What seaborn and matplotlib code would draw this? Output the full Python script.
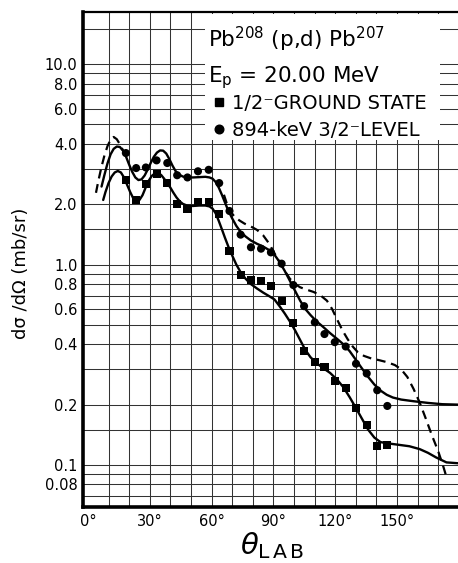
import numpy as np
import pandas as pd
import matplotlib
matplotlib.use("Agg")
import matplotlib.pyplot as plt
import seaborn as sns
from matplotlib.patches import Rectangle
from matplotlib.lines import Line2D

# ---------------- data ----------------
theta_pts = [18.4, 23.4, 28.1, 33.3, 38.5, 43.3, 48.3, 53.4, 58.6, 63.7, 68.7,
             74.1, 79.1, 84.0, 88.8, 94.0, 99.7, 104.9, 110.1, 114.8, 119.8,
             125.1, 130.1, 135.3, 140.4, 145.3]
ground_vals = [2.65, 2.09, 2.53, 2.82, 2.55, 2.01, 1.90, 2.05, 2.05, 1.79, 1.17,
               0.89, 0.84, 0.83, 0.785, 0.66, 0.51, 0.37, 0.325, 0.307, 0.263,
               0.242, 0.192, 0.158, 0.124, 0.126]
level_vals = [3.60, 3.03, 3.05, 3.31, 3.21, 2.79, 2.72, 2.92, 2.97, 2.55, 1.85,
              1.41, 1.22, 1.20, 1.15, 1.01, 0.79, 0.62, 0.515, 0.45, 0.41,
              0.39, 0.32, 0.286, 0.236, 0.197]

fit_level_theta = [6.6, 8, 9.5, 11, 12.5, 14, 15.5, 17, 18.5, 20, 21.5, 23, 24.5,
                   26, 27.5, 29, 30.5, 32, 33.5, 35, 36.5, 38, 39.5, 41, 42.5, 44,
                   46, 48, 51, 54, 57, 59, 60.5, 62, 63.5, 65, 66.5, 68, 70, 72,
                   74, 76.5, 79, 82, 85, 88, 90.5, 93, 95.5, 98, 100.5, 103, 105.5,
                   108, 111, 114, 117.5, 121, 124, 127, 130, 133, 136, 139, 142,
                   145, 148, 152, 158, 165, 172, 179.6]
fit_level_vals = [2.45, 2.8, 3.2, 3.55, 3.78, 3.88, 3.86, 3.70, 3.45, 3.15, 2.90,
                  2.72, 2.64, 2.66, 2.78, 2.98, 3.22, 3.45, 3.62, 3.71, 3.70, 3.58,
                  3.36, 3.12, 2.93, 2.82, 2.75, 2.72, 2.72, 2.73, 2.74, 2.72, 2.68,
                  2.58, 2.42, 2.23, 2.04, 1.87, 1.70, 1.56, 1.46, 1.38, 1.32, 1.27,
                  1.23, 1.18, 1.12, 1.03, 0.93, 0.83, 0.74, 0.66, 0.60, 0.56, 0.52,
                  0.49, 0.455, 0.425, 0.40, 0.37, 0.335, 0.303, 0.275, 0.252,
                  0.235, 0.224, 0.217, 0.212, 0.208, 0.204, 0.201, 0.200]

fit_ground_theta = [7.4, 8.5, 10, 11.5, 13, 14.5, 16, 17.5, 19, 20.5, 22, 23.5,
                    25, 26.5, 28, 29.5, 31, 32.5, 34, 35.5, 37, 38.5, 40, 41.5, 43,
                    44.5, 46, 48, 51, 54, 57, 59, 60.5, 62, 63.5, 65, 66.5, 68, 70,
                    72, 74, 76.5, 79, 82, 85, 88, 90.5, 93, 95.5, 98, 100.5, 103,
                    105.5, 108, 111, 114, 117.5, 121, 124, 127, 130, 133, 136, 139,
                    142, 146, 151, 156, 161, 165, 169, 174, 179.6]
fit_ground_vals = [2.10, 2.30, 2.55, 2.75, 2.88, 2.93, 2.88, 2.72, 2.50, 2.30,
                   2.14, 2.07, 2.10, 2.22, 2.42, 2.62, 2.77, 2.85, 2.86, 2.80,
                   2.68, 2.55, 2.42, 2.28, 2.16, 2.07, 2.01, 1.97, 1.96, 1.97,
                   1.97, 1.95, 1.90, 1.80, 1.65, 1.50, 1.36, 1.24, 1.11, 1.00,
                   0.92, 0.85, 0.80, 0.76, 0.725, 0.695, 0.67, 0.62, 0.57, 0.52,
                   0.47, 0.42, 0.375, 0.345, 0.322, 0.305, 0.288, 0.266, 0.244,
                   0.218, 0.193, 0.170, 0.150, 0.137, 0.130, 0.128, 0.126, 0.124,
                   0.120, 0.115, 0.109, 0.103, 0.102]

dash_theta_a = [3.9, 5, 6.5, 8, 9.5, 11, 12.5, 14, 15.5, 17, 18]
dash_vals_a = [2.28, 2.6, 3.05, 3.5, 3.9, 4.2, 4.33, 4.22, 3.98, 3.72, 3.52]
dash_theta_b = [66, 67.5, 69, 71, 73.5, 76, 79, 82, 85, 88, 90.5, 93, 95.5, 98,
                100.5, 103, 106, 109.5, 113, 116, 118.5, 121, 123.5, 126, 128.5,
                131, 134, 137.5, 141.5, 145.5, 149, 152, 155, 158, 161, 164, 167,
                170, 172.5, 174.3]
dash_vals_b = [2.23, 2.0, 1.85, 1.74, 1.66, 1.60, 1.55, 1.49, 1.40, 1.27, 1.14,
               1.03, 0.93, 0.85, 0.80, 0.77, 0.75, 0.73, 0.70, 0.66, 0.60, 0.53,
               0.47, 0.425, 0.39, 0.365, 0.35, 0.34, 0.333, 0.325, 0.315, 0.30,
               0.275, 0.24, 0.205, 0.17, 0.14, 0.117, 0.098, 0.085]

ytick_vals = [10, 8, 6, 4, 2, 1, 0.8, 0.6, 0.4, 0.2, 0.1, 0.08]
ytick_labels = ["10.0", "8.0", "6.0", "4.0", "2.0", "1.0", "0.8", "0.6", "0.4",
                "0.2", "0.1", "0.08"]
xtick_vals = [0, 30, 60, 90, 120, 150]
xtick_labels = ["0°", "30°", "60°", "90°", "120°", "150°"]
ygrid_vals = [0.07, 0.08, 0.09, 0.1, 0.15, 0.2, 0.3, 0.4, 0.5, 0.6, 0.7, 0.8, 0.9,
              1, 1.5, 2, 3, 4, 5, 6, 7, 8, 9, 10, 15]
xgrid_vals = [10, 20, 30, 40, 50, 60, 70, 80, 90, 100, 110, 120, 130, 140, 150,
              160, 170]

label_ground = "1/2\u207bGROUND STATE"
label_level = "894-keV 3/2\u207bLEVEL"

# ---------------- figure ----------------
sns.set_style("white")
plt.rcParams["font.family"] = ["DejaVu Sans"]
plt.rcParams["text.color"] = "black"
plt.rcParams["xtick.color"] = "black"
plt.rcParams["ytick.color"] = "black"

W, H = 458, 563
fig = plt.figure(figsize=(W / 100, H / 100), dpi=100)
ax = fig.add_axes([83 / W, (H - 507) / H, (458 - 83) / W, (507 - 12) / H])
ax.set_yscale("log")
ax.set_xlim(-2.4, 179.6)
ax.set_ylim(0.0617, 18.2)

for gy in ygrid_vals:
    ax.axhline(gy, color="#333333", lw=0.75, zorder=0.5)
for gx in xgrid_vals:
    ax.axvline(gx, color="#333333", lw=0.75, zorder=0.5)

# white panel behind the annotation text
ax.add_patch(Rectangle((0.325, 0.741), 0.627, 0.254, transform=ax.transAxes,
                       facecolor="white", edgecolor="none", zorder=1))

pts = pd.DataFrame({
    "theta": theta_pts * 2,
    "xs": ground_vals + level_vals,
    "state": [label_ground] * len(theta_pts) + [label_level] * len(theta_pts),
})
sns.scatterplot(data=pts, x="theta", y="xs", style="state",
                markers={label_ground: "s", label_level: "o"},
                color="black", s=34, linewidth=0, legend=False, ax=ax, zorder=3)

fits = pd.DataFrame({
    "theta": fit_level_theta + fit_ground_theta,
    "xs": fit_level_vals + fit_ground_vals,
    "curve": ["level"] * len(fit_level_theta) + ["ground"] * len(fit_ground_theta),
})
sns.lineplot(data=fits, x="theta", y="xs", units="curve", estimator=None,
             sort=False, color="black", lw=1.7, ax=ax, zorder=2.5)

n_before = len(ax.lines)
dash = pd.DataFrame({
    "theta": dash_theta_a + dash_theta_b,
    "xs": dash_vals_a + dash_vals_b,
    "seg": ["a"] * len(dash_theta_a) + ["b"] * len(dash_theta_b),
})
sns.lineplot(data=dash, x="theta", y="xs", units="seg", estimator=None,
             sort=False, color="black", lw=1.6, ax=ax, zorder=2.4)
for ln in ax.lines[n_before:]:
    ln.set_dashes([4, 2.6])

ax.set_yticks(ytick_vals)
ax.set_yticklabels(ytick_labels)
ax.yaxis.set_minor_locator(matplotlib.ticker.NullLocator())
ax.set_xticks(xtick_vals)
ax.set_xticklabels(xtick_labels)
ax.tick_params(axis="both", length=0, labelsize=10.5, colors="black",
               labelcolor="black")
ax.tick_params(axis="y", pad=4)
ax.tick_params(axis="x", pad=5)
ax.set_xlabel("")
ax.set_ylabel("")

ax.spines["right"].set_visible(False)
ax.spines["left"].set_linewidth(2.6)
ax.spines["bottom"].set_linewidth(2.6)
ax.spines["top"].set_linewidth(1.6)
for s in ax.spines.values():
    s.set_color("black")

# annotation
fig.text(208 / W, 1 - 47 / H, "Pb$^{208}$ (p,d) Pb$^{207}$", fontsize=15.5,
         va="baseline", ha="left", color="black")
fig.text(208 / W, 1 - 82 / H, "E$_{\\mathrm{p}}$ = 20.00 MeV", fontsize=15.5,
         va="baseline", ha="left", color="black")

handles = [Line2D([], [], ls="none", marker="s", color="black", ms=5.6),
           Line2D([], [], ls="none", marker="o", color="black", ms=6.2)]
leg = ax.legend(handles, [label_ground, label_level], loc="upper left",
                bbox_to_anchor=(212 / W, 1 - 94 / H),
                bbox_transform=fig.transFigure, frameon=False, fontsize=14,
                handlelength=0.7, handletextpad=0.35, borderpad=0,
                borderaxespad=0, labelspacing=0.42, labelcolor="black")
leg.set_zorder(5)

fig.text(21 / W, 1 - 273 / H, "d\u03c3 /d\u03a9 (mb/sr)", rotation=90,
         fontsize=13, ha="center", va="center", color="black")
fig.text(272 / W, 1 - 546 / H, r"$\theta_{\mathrm{L\,A\,B}}$", fontsize=21,
         ha="center", va="center", color="black")

fig.savefig("out.png", dpi=100)
